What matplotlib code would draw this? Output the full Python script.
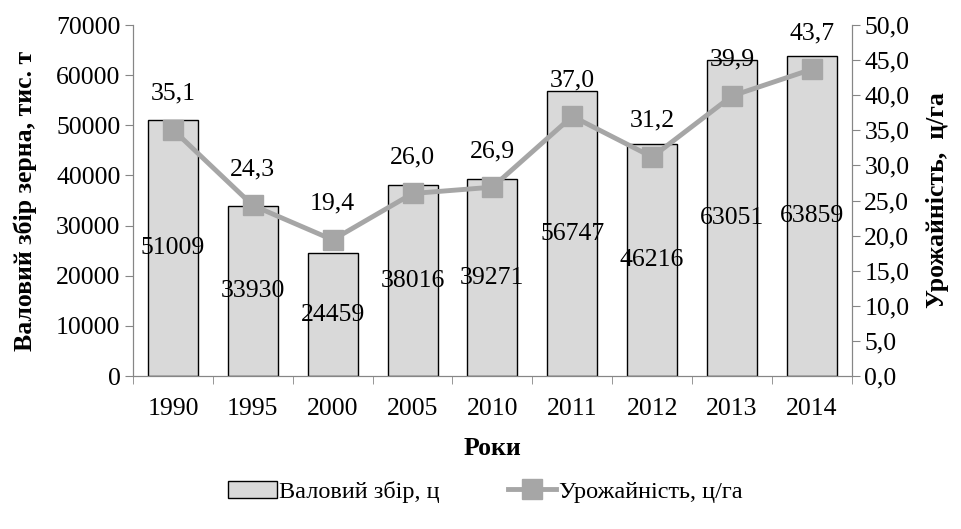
import matplotlib.pyplot as plt
import numpy as np

# Data
years = ['1990', '1995', '2000', '2005', '2010', '2011', '2012', '2013', '2014']
gross_harvest = [51009, 33930, 24459, 38016, 39271, 56747, 46216, 63051, 63859]
yield_values = [35.1, 24.3, 19.4, 26.0, 26.9, 37.0, 31.2, 39.9, 43.7]

plt.rcParams['font.family'] = ['Liberation Serif', 'DejaVu Serif']
fs = 18.5

fig = plt.figure(figsize=(9.61, 5.29), dpi=100)
ax = fig.add_axes([0.1384, 0.2892, 0.748, 0.6635])
ax2 = ax.twinx()

x = np.arange(len(years))
spine_color = '#868686'

# Bars
bars = ax.bar(x, gross_harvest, width=0.625, color='#d9d9d9', edgecolor='black',
              linewidth=1.0, label='Валовий збір, ц', zorder=2)
for xi, val in zip(x, gross_harvest):
    ax.text(xi, val / 2, f'{val}', ha='center', va='center', fontsize=fs, color='black', zorder=3)

# Line
line, = ax2.plot(x, yield_values, color='#a6a6a6', linewidth=3.5, marker='s', markersize=14,
                 markerfacecolor='#a6a6a6', markeredgecolor='#a6a6a6', label='Урожайність, ц/га', zorder=4)
for xi, val in zip(x, yield_values):
    ax2.annotate(f'{val:.1f}'.replace('.', ','), xy=(xi, val), xytext=(0, 26), textcoords='offset points',
                 ha='center', va='center', fontsize=fs, color='black')

# Axis limits / ticks
ax.set_xlim(-0.5, len(years) - 0.5)
ax.set_ylim(0, 70000)
ax.set_yticks(np.arange(0, 70001, 10000))
ax2.set_ylim(0, 50)
ax2.set_yticks(np.arange(0, 50.1, 5))
ax2.set_yticklabels([f'{v:.1f}'.replace('.', ',') for v in np.arange(0, 50.1, 5)])

ax.set_xticks(x)
ax.set_xticklabels(years)
ax.set_xticks(np.arange(-0.5, len(years), 1), minor=True)
ax.tick_params(axis='x', which='major', length=0, labelsize=fs, pad=16)
ax.tick_params(axis='x', which='minor', length=6, color=spine_color, direction='out')
ax.tick_params(axis='y', labelsize=fs, length=6, color=spine_color, direction='out', pad=3)
ax2.tick_params(axis='y', labelsize=fs, length=6, color=spine_color, direction='out', pad=3)

for a in (ax, ax2):
    a.spines['top'].set_visible(False)
    for s in ('left', 'right', 'bottom'):
        a.spines[s].set_color(spine_color)

ax.set_ylabel('Валовий збір зерна, тис. т', fontsize=fs, fontweight='bold', labelpad=14)
ax2.set_ylabel('Урожайність,  ц/га', fontsize=fs, fontweight='bold', labelpad=12)
ax.set_xlabel('Роки', fontsize=fs, fontweight='bold', labelpad=12)

ax2.set_zorder(ax.get_zorder() + 1)
ax2.patch.set_visible(False)

fig.legend(handles=[bars, line], loc='center', bbox_to_anchor=(0.505, 0.07), ncol=2, frameon=False,
           prop={'size': 17.5}, handlelength=2.0, handletextpad=0.1,
           columnspacing=2.8)

fig.savefig('out.png', dpi=100)
